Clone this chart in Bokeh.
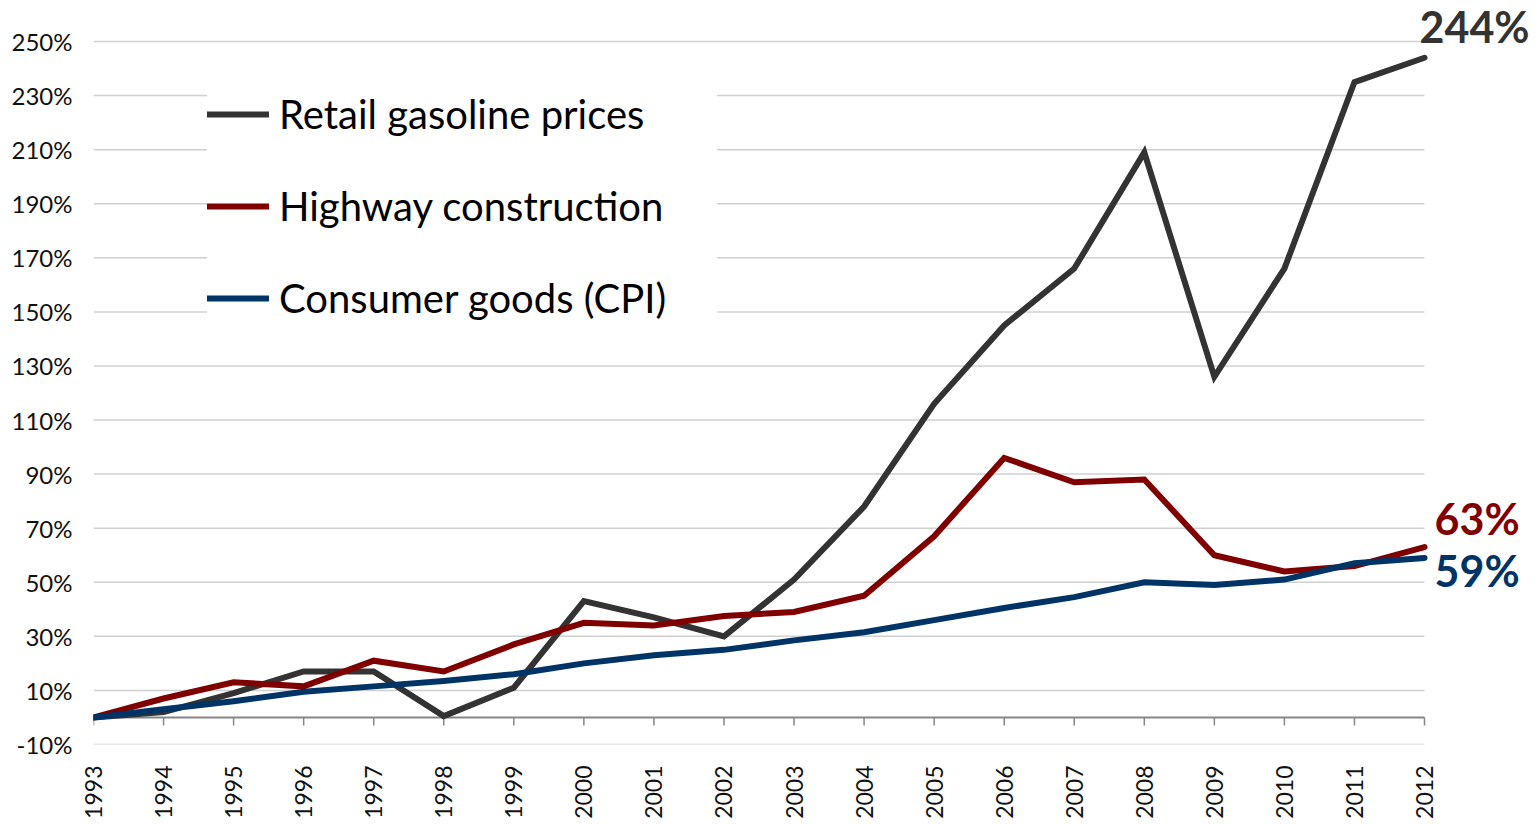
import math
from bokeh.plotting import figure
from bokeh.models import FixedTicker, PrintfTickFormatter, Label, Legend, LegendItem
from bokeh.embed import file_html
from bokeh.resources import INLINE

years = list(range(1993, 2013))
gasoline = [0, 2, 9, 17, 17, 0.5, 11, 43, 37, 30, 51, 78, 116, 145, 166, 209, 126, 166, 235, 244]
highway = [0, 7, 13, 11.5, 21, 17, 27, 35, 34, 37.5, 39, 45, 67, 96, 87, 88, 60, 54, 56, 63]
cpi = [0, 3, 6, 9.5, 11.5, 13.5, 16, 20, 23, 25, 28.5, 31.5, 36, 40.5, 44.5, 50, 49, 51, 57, 59]
series_names = ["Retail gasoline prices", "Highway construction", "Consumer goods (CPI)"]
series_colors = ["#333333", "#800000", "#003366"]
end_labels = ["244%", "63%", "59%"]
y_ticks = list(range(-10, 251, 20))

FONT = "Lato"

# layout (pixels)
W, H = 1529, 822
BL, BB = 93, 78
frame_w = W - BL
frame_h = H - BB
px_per_year = 1331 / (years[-1] - years[0])
px_per_pct = 703 / (y_ticks[-1] - y_ticks[0])
x_end = years[0] + frame_w / px_per_year
y_end = y_ticks[0] + frame_h / px_per_pct

p = figure(width=W, height=H, output_backend="svg", toolbar_location=None,
           x_range=(years[0], x_end), y_range=(y_ticks[0], y_end),
           min_border_left=BL, min_border_right=0, min_border_top=0, min_border_bottom=BB)
p.outline_line_color = None
p.background_fill_color = "white"
p.xgrid.grid_line_color = None
p.ygrid.grid_line_color = None

# horizontal grid lines only across the data span
p.segment(x0=[years[0]] * len(y_ticks), x1=[years[-1]] * len(y_ticks), y0=y_ticks, y1=y_ticks,
          line_color="#d0d0d0", line_width=1.5)

# y axis
p.yaxis.ticker = FixedTicker(ticks=y_ticks)
p.yaxis.formatter = PrintfTickFormatter(format="%d%%")
p.yaxis.axis_line_color = None
p.yaxis.major_tick_line_color = None
p.yaxis.minor_tick_line_color = None
p.yaxis.major_tick_out = 0
p.yaxis.major_tick_in = 0
p.yaxis.major_label_standoff = 21
p.yaxis.major_label_text_font = FONT
p.yaxis.major_label_text_font_size = "24px"
p.yaxis.major_label_text_color = "#111111"

# x axis (labels only, at bottom)
p.xaxis.ticker = FixedTicker(ticks=years)
p.xaxis.axis_line_color = None
p.xaxis.major_tick_line_color = None
p.xaxis.minor_tick_line_color = None
p.xaxis.major_tick_out = 0
p.xaxis.major_tick_in = 0
p.xaxis.major_label_orientation = math.pi / 2
p.xaxis.major_label_standoff = 21
p.xaxis.major_label_text_font = FONT
p.xaxis.major_label_text_font_size = "23px"
p.xaxis.major_label_text_color = "#111111"

# axis line at 0 with tick marks
p.segment(x0=years, x1=years, y0=[0] * len(years), y1=[-3] * len(years),
          line_color="#868686", line_width=1.5)
p.segment(x0=[years[0]], x1=[years[-1]], y0=[0], y1=[0], line_color="#868686", line_width=2)

renderers = []
for vals, col in zip([gasoline, highway, cpi], series_colors):
    r = p.line(years, vals, line_color=col, line_width=6, line_join="miter", line_cap="round")
    renderers.append(r)

legend = Legend(items=[LegendItem(label=n, renderers=[r]) for n, r in zip(series_names, renderers)],
                location=(114, 422), orientation="vertical")
legend.label_text_font = FONT
legend.label_text_font_size = "40px"
legend.label_text_color = "#000000"
legend.glyph_width = 62
legend.glyph_height = 48
legend.label_height = 48
legend.label_width = 438
legend.label_standoff = 10
legend.spacing = 44
legend.padding = 40
legend.margin = 0
legend.border_line_color = None
legend.background_fill_color = "white"
legend.background_fill_alpha = 1.0
p.add_layout(legend)

# end labels
offsets = [(-5, 31), (10, 29), (10, -13)]
ends = [gasoline[-1], highway[-1], cpi[-1]]
for txt, yv, col, (dx, dy) in zip(end_labels, ends, series_colors, offsets):
    p.add_layout(Label(x=years[-1], y=yv, text=txt, x_offset=dx, y_offset=dy,
                       text_font=FONT, text_font_size="43px", text_font_style="bold",
                       text_color=col, text_baseline="middle", text_align="left"))

open("out.html", "w").write(file_html(p, INLINE))
